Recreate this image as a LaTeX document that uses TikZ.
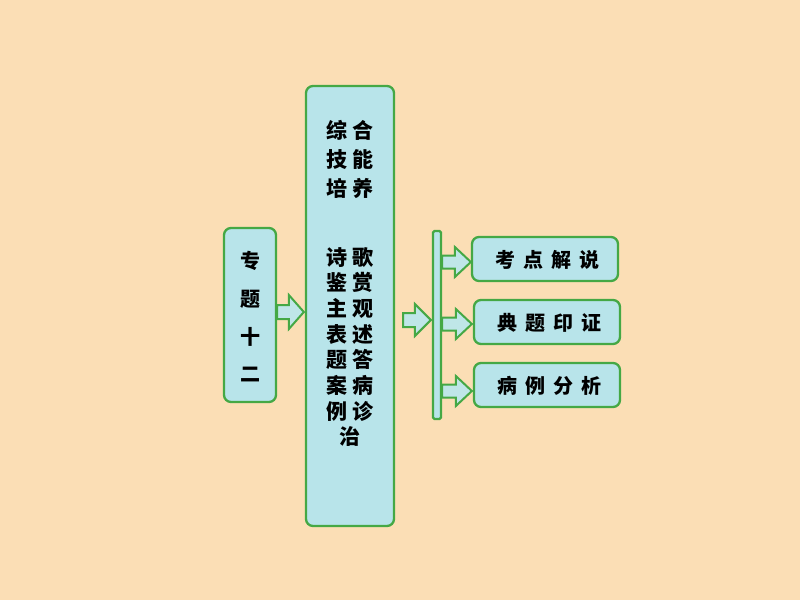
\documentclass[tikz,border=0pt]{standalone}
\usepackage{fontspec}
\newfontfamily\cjk{Noto Sans CJK SC}
\usetikzlibrary{calc}
\definecolor{bg}{HTML}{FBDEB5}
\definecolor{boxfill}{HTML}{B8E4EA}
\definecolor{edge}{HTML}{45A845}
\definecolor{arrowfill}{HTML}{BFE6E8}
% #1 start, #2 end, #3 shaft half width, #4 head half width, #5 head length
\newcommand\blockarr[5]{%
 \draw[barrow] let \p1=#1, \p2=#2 in
  (\x1,{\y1+#3}) -- ({\x2-#5},{\y1+#3}) -- ({\x2-#5},{\y1+#4}) -- (\x2,\y1)
  -- ({\x2-#5},{\y1-#4}) -- ({\x2-#5},{\y1-#3}) -- (\x1,{\y1-#3}) -- cycle;}
\begin{document}
\begin{tikzpicture}[x=1pt,y=-1pt,
 box/.style={draw=edge, fill=boxfill, line width=2.3pt, rounded corners=7pt, inner sep=0pt},
 txt/.style={font=\cjk\bfseries\fontsize{20}{20}\selectfont, inner sep=0pt, align=center},
 barrow/.style={draw=edge, fill=arrowfill, line width=2pt, line join=miter}]
\fill[bg] (0,0) rectangle (800,600);
\useasboundingbox (0,0) rectangle (800,600);
% boxes
\node[box, minimum width=52pt, minimum height=174pt] (left) at (250,315) {};
\node[box, minimum width=88pt, minimum height=440pt] (mid) at (350,306) {};
\node[box, rounded corners=1.5pt, minimum width=8pt, minimum height=188pt] (bar) at (437,325) {};
\node[box, minimum width=146pt, minimum height=44pt] (r1) at (545,259) {};
\node[box, minimum width=146pt, minimum height=44pt] (r2) at (547,322) {};
\node[box, minimum width=146pt, minimum height=44pt] (r3) at (547,385) {};
% texts
\node[txt, font=\cjk\bfseries\fontsize{20}{37.7}\selectfont] (tl) at (250,317) {专\\题\\十\\二};
\node[txt, font=\cjk\bfseries\fontsize{21}{29}\selectfont] (tm1) at (350,159) {综\hspace{5pt}合\\技\hspace{5pt}能\\培\hspace{5pt}养};
\node[txt, font=\cjk\bfseries\fontsize{21}{25.7}\selectfont] (tm2) at (350,347) {诗\hspace{5pt}歌\\鉴\hspace{5pt}赏\\主\hspace{5pt}观\\表\hspace{5pt}述\\题\hspace{5pt}答\\案\hspace{5pt}病\\例\hspace{5pt}诊\\治};
\node[txt] (t1) at ($(r1.center)+(2,1)$) {考\hspace{8pt}点\hspace{8pt}解\hspace{8pt}说};
\node[txt] (t2) at ($(r2.center)+(2,1)$) {典\hspace{8pt}题\hspace{8pt}印\hspace{8pt}证};
\node[txt] (t3) at ($(r3.center)+(2,1)$) {病\hspace{8pt}例\hspace{8pt}分\hspace{8pt}析};
% arrow rows
\coordinate (ya1) at (0,312);
\coordinate (ya2) at (0,320);
\coordinate (ya3) at (0,262);
\coordinate (ya4) at (0,324);
\coordinate (ya5) at (0,391);
% arrows
\blockarr{($(left.east |- ya1)+(0,0)$)}{($(mid.west |- ya1)+(-1,0)$)}{7pt}{17pt}{15pt}
\blockarr{($(mid.east |- ya2)+(8,0)$)}{($(bar.west |- ya2)+(-1,0)$)}{7pt}{16pt}{16pt}
\blockarr{(bar.east |- ya3)}{($(r1.west |- ya3)+(0,0)$)}{6.5pt}{15pt}{16pt}
\blockarr{(bar.east |- ya4)}{($(r2.west |- ya4)+(-1,0)$)}{6.5pt}{15pt}{16pt}
\blockarr{(bar.east |- ya5)}{($(r3.west |- ya5)+(-1,0)$)}{6.5pt}{15pt}{16pt}
\end{tikzpicture}
\end{document}
